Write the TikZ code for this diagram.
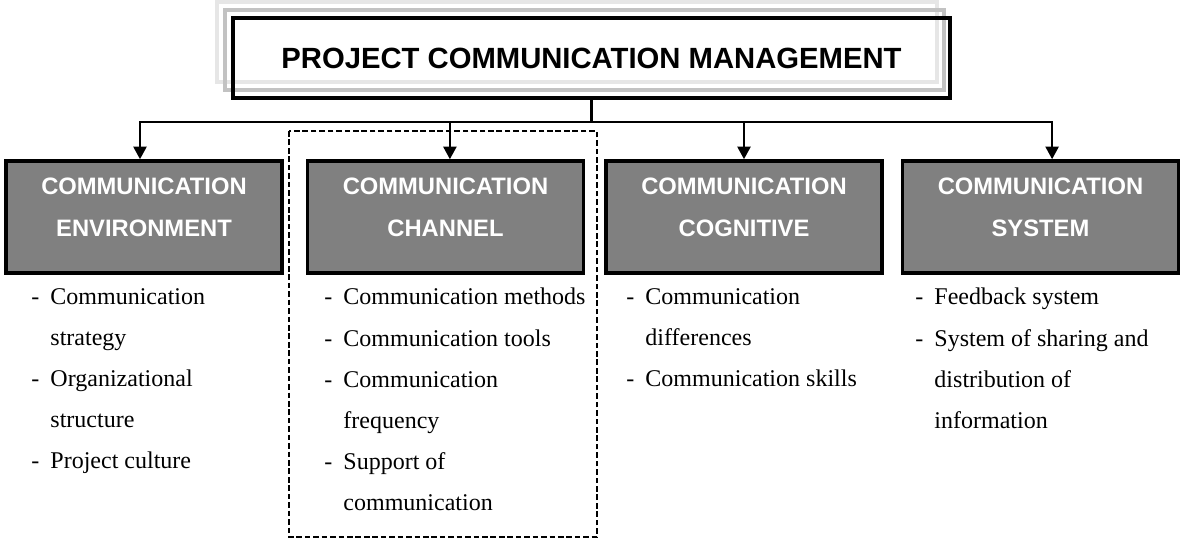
\documentclass[tikz,border=0pt]{standalone}
\usepackage{fontspec}
\setmainfont{Liberation Serif}
\newfontfamily\headsans{Liberation Sans}
\usepackage{tikz}
\usetikzlibrary{arrows.meta}

\definecolor{boxgray}{HTML}{808080}
\definecolor{shadelight}{HTML}{E6E6E6}
\definecolor{shademid}{HTML}{C2C2C2}
\newcommand{\bul}{\makebox[0.8em][l]{-}}
\newcommand{\ind}{\hspace*{0.8em}}
\newcommand{\lowstrut}{\rule[-13.5pt]{0pt}{13.5pt}}

\begin{document}
\begin{tikzpicture}[x=0.025cm, y=-0.025cm,
    heading/.style={draw=black, line width=2.8pt, minimum width=17.9cm, minimum height=2cm,
      inner sep=0pt, font=\headsans\bfseries\fontsize{20.8}{25}\selectfont},
    catbox/.style={draw=black, fill=boxgray, line width=2.6pt, minimum width=6.9cm,
      minimum height=2.8cm, inner sep=0pt, text=white, align=center,
      font=\headsans\bfseries\fontsize{16.9}{29.9}\selectfont},
    itemlist/.style={anchor=north west, inner sep=0pt, align=left,
      font=\fontsize{17.07}{29.2}\selectfont},
    link/.style={line width=1.2pt},
    arrow/.style={link, -{Triangle[length=9pt, width=9.5pt]}},
    group/.style={line width=1pt, dash pattern=on 4pt off 2pt}]

  \useasboundingbox (0,0) rectangle (1180,540);

  % grey frames behind the title
  \draw[shadelight, line width=3.5pt] (217,2) rectangle (937,82);
  \draw[shademid, line width=2.8pt] (225,10) rectangle (944,90);
  \node[heading] (title) at (591.5,58) {PROJECT COMMUNICATION MANAGEMENT};

  % the four areas
  \node[catbox] (env) at (144,217) {COMMUNICATION\\ENVIRONMENT\lowstrut};
  \node[catbox] (chan) at (445.5,217) {COMMUNICATION\\CHANNEL\lowstrut};
  \node[catbox] (cogn) at (744,217) {COMMUNICATION\\COGNITIVE\lowstrut};
  \node[catbox] (sys) at (1040.5,217) {COMMUNICATION\\SYSTEM\lowstrut};

  \coordinate (hub) at (title.south |- 0,122);
  \draw[line width=2pt] (title.south) -- (hub);
  \draw[arrow] (hub) -| ([xshift=-0.1cm]env.north);
  \draw[arrow] (hub) -| ([xshift=0.11cm]chan.north);
  \draw[arrow] (hub) -| (cogn.north);
  \draw[arrow] (hub) -| ([xshift=0.29cm]sys.north);

  \draw[group] (289,131) rectangle (597,537);

  % items under each area
  \node[itemlist] (envlist) at (31,288) {\bul Communication\\\ind strategy\\\bul Organizational\\\ind structure\\\bul Project culture};
  \node[itemlist] (chanlist) at (324,288) {\bul Communication methods\\\bul Communication tools\\\bul Communication\\\ind frequency\\\bul Support of\\\ind communication};
  \node[itemlist] (cognlist) at (626,288) {\bul Communication\\\ind differences\\\bul Communication skills};
  \node[itemlist] (syslist) at (915,288) {\bul Feedback system\\\bul System of sharing and\\\ind distribution of\\\ind information};
\end{tikzpicture}
\end{document}
